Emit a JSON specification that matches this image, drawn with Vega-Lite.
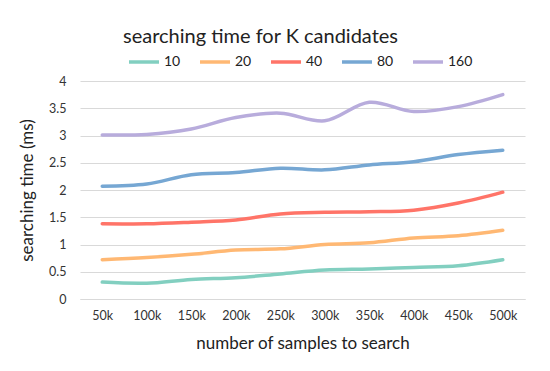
{
  "$schema": "https://vega.github.io/schema/vega-lite/v6.json",
  "width": 445,
  "height": 218,
  "autosize": {"type": "none"},
  "padding": {"left": 80, "top": 81, "right": 25, "bottom": 72},
  "background": "white",
  "title": {"text": "searching time for K candidates", "font": "Lato", "fontSize": 20, "fontWeight": "normal", "color": "#222222", "anchor": "middle", "dx": -42, "offset": -2},
  "config": {
    "view": {"stroke": null},
    "font": "Lato"
  },
  "data": {
    "values": [
      {"n": "50k", "k": "10", "t": 0.31}, {"n": "100k", "k": "10", "t": 0.29}, {"n": "150k", "k": "10", "t": 0.36}, {"n": "200k", "k": "10", "t": 0.39}, {"n": "250k", "k": "10", "t": 0.46}, {"n": "300k", "k": "10", "t": 0.53}, {"n": "350k", "k": "10", "t": 0.55}, {"n": "400k", "k": "10", "t": 0.58}, {"n": "450k", "k": "10", "t": 0.61}, {"n": "500k", "k": "10", "t": 0.72},
      {"n": "50k", "k": "20", "t": 0.72}, {"n": "100k", "k": "20", "t": 0.76}, {"n": "150k", "k": "20", "t": 0.82}, {"n": "200k", "k": "20", "t": 0.90}, {"n": "250k", "k": "20", "t": 0.92}, {"n": "300k", "k": "20", "t": 1.00}, {"n": "350k", "k": "20", "t": 1.03}, {"n": "400k", "k": "20", "t": 1.12}, {"n": "450k", "k": "20", "t": 1.16}, {"n": "500k", "k": "20", "t": 1.26},
      {"n": "50k", "k": "40", "t": 1.38}, {"n": "100k", "k": "40", "t": 1.38}, {"n": "150k", "k": "40", "t": 1.41}, {"n": "200k", "k": "40", "t": 1.45}, {"n": "250k", "k": "40", "t": 1.56}, {"n": "300k", "k": "40", "t": 1.59}, {"n": "350k", "k": "40", "t": 1.60}, {"n": "400k", "k": "40", "t": 1.63}, {"n": "450k", "k": "40", "t": 1.76}, {"n": "500k", "k": "40", "t": 1.96},
      {"n": "50k", "k": "80", "t": 2.07}, {"n": "100k", "k": "80", "t": 2.11}, {"n": "150k", "k": "80", "t": 2.28}, {"n": "200k", "k": "80", "t": 2.32}, {"n": "250k", "k": "80", "t": 2.40}, {"n": "300k", "k": "80", "t": 2.37}, {"n": "350k", "k": "80", "t": 2.46}, {"n": "400k", "k": "80", "t": 2.52}, {"n": "450k", "k": "80", "t": 2.65}, {"n": "500k", "k": "80", "t": 2.73},
      {"n": "50k", "k": "160", "t": 3.01}, {"n": "100k", "k": "160", "t": 3.02}, {"n": "150k", "k": "160", "t": 3.12}, {"n": "200k", "k": "160", "t": 3.33}, {"n": "250k", "k": "160", "t": 3.41}, {"n": "300k", "k": "160", "t": 3.27}, {"n": "350k", "k": "160", "t": 3.61}, {"n": "400k", "k": "160", "t": 3.44}, {"n": "450k", "k": "160", "t": 3.53}, {"n": "500k", "k": "160", "t": 3.75}
    ]
  },
  "mark": {"type": "line", "interpolate": "catmull-rom", "strokeWidth": 3.5, "strokeCap": "round"},
  "encoding": {
    "x": {
      "field": "n", "type": "ordinal", "sort": null,
      "scale": {"type": "point", "padding": 0.5},
      "axis": {"title": "number of samples to search", "titleFontSize": 17, "titleFontWeight": "normal", "titleColor": "#222222", "titlePadding": 14, "labelAngle": 0, "labelFontSize": 12.5, "labelColor": "#333333", "labelPadding": 10, "ticks": false, "domain": true, "domainColor": "#d9d9d9", "grid": false}
    },
    "y": {
      "field": "t", "type": "quantitative",
      "scale": {"domain": [0, 4]},
      "axis": {"title": "searching time (ms)", "values": [0, 0.5, 1, 1.5, 2, 2.5, 3, 3.5, 4], "format": "~g", "titleFontSize": 17, "titleFontWeight": "normal", "titleColor": "#222222", "titlePadding": 12, "labelFontSize": 12.5, "labelColor": "#333333", "labelPadding": 14, "ticks": false, "domain": false, "grid": true, "gridColor": "#d9d9d9", "gridWidth": 1}
    },
    "color": {
      "field": "k", "type": "nominal", "sort": ["10", "20", "40", "80", "160"],
      "scale": {"domain": ["10", "20", "40", "80", "160"], "range": ["#82cfc0", "#ffb873", "#ff7468", "#76a7d3", "#b8acdc"]},
      "legend": {"title": null, "orient": "none", "direction": "horizontal", "legendX": 47, "legendY": -36, "symbolType": "stroke", "symbolSize": 900, "symbolStrokeWidth": 3.5, "labelFontSize": 14, "labelColor": "#222222", "labelOffset": 3, "columnPadding": 12}
    }
  }
}
